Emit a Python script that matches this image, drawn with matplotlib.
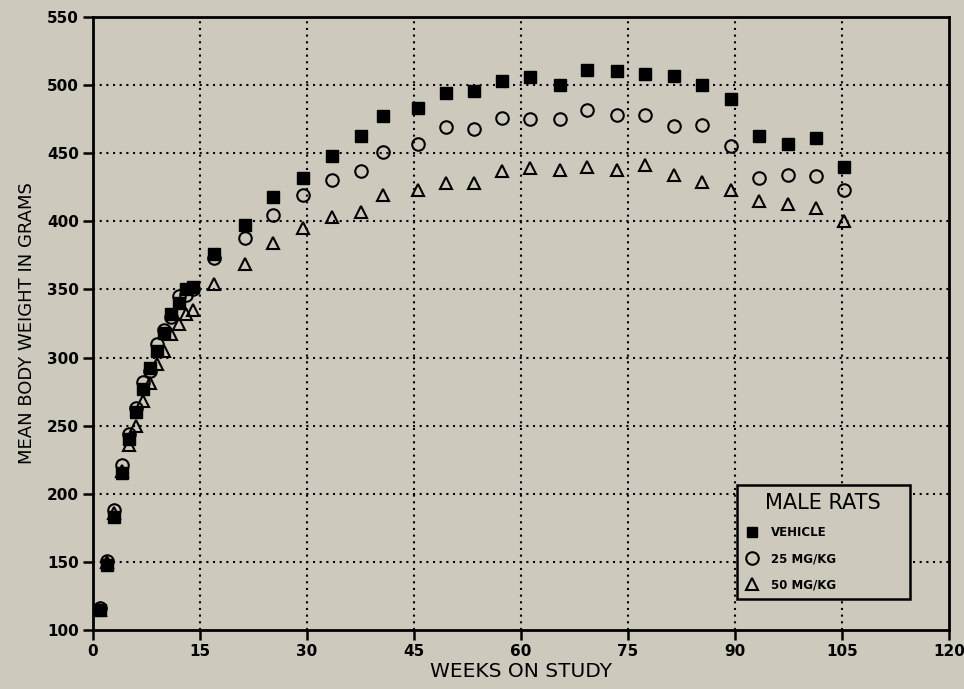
import matplotlib
matplotlib.use("Agg")
import matplotlib.pyplot as plt
from matplotlib.lines import Line2D

# ---- data ----
weeks = [1, 2, 3, 4, 5, 6, 7, 8, 9, 10, 11, 12, 13, 14,
         17, 21.3, 25.3, 29.4, 33.5, 37.5, 40.6, 45.5, 49.5, 53.4, 57.3, 61.3,
         65.4, 69.3, 73.4, 77.4, 81.4, 85.4, 89.4, 93.4, 97.4, 101.4, 105.3]

vehicle = [115, 148, 183, 215, 240, 260, 277, 292, 305, 318, 332, 340, 350, 352,
           376, 397, 418, 432, 448, 463, 477, 483, 494, 496, 503, 506, 500,
           511, 510, 508, 507, 500, 490, 463, 457, 461, 440]

mg25 = [116, 151, 188, 221, 244, 263, 282, 290, 310, 320, 330, 345, 346, 350,
        373, 388, 405, 419, 430, 437, 451, 457, 469, 468, 476, 475, 475,
        482, 478, 478, 470, 471, 455, 432, 434, 433, 423]

mg50 = [115, 150, 186, 217, 236, 250, 268, 281, 295, 305, 317, 325, 332, 335,
        354, 369, 384, 395, 403, 407, 419, 423, 428, 428, 437, 439, 438,
        440, 438, 441, 434, 429, 423, 415, 413, 410, 400]

xticks = [0, 15, 30, 45, 60, 75, 90, 105, 120]
yticks = [100, 150, 200, 250, 300, 350, 400, 450, 500, 550]
labels = ["VEHICLE", "25 MG/KG", "50 MG/KG"]

bg = "#cdc9bd"
fig = plt.figure(figsize=(9.64, 6.89), dpi=100, facecolor=bg)
ax = fig.add_axes([93 / 964, 1 - 630 / 689, (949 - 93) / 964, (630 - 17) / 689])
ax.set_facecolor(bg)

ax.set_xlim(0, 120)
ax.set_ylim(100, 550)
ax.set_xticks(xticks)
ax.set_yticks(yticks)

# dotted grid
for x in xticks[1:-1]:
    ax.axvline(x, color="black", linestyle=(0, (1, 2.2)), linewidth=1.5, zorder=1)
for y in yticks[1:-1]:
    ax.axhline(y, color="black", linestyle=(0, (1, 2.2)), linewidth=1.5, zorder=1)

ax.plot(weeks, mg50, linestyle="none", marker="^", markersize=8.5,
        markerfacecolor="none", markeredgecolor="black", markeredgewidth=1.5, zorder=3)
ax.plot(weeks, mg25, linestyle="none", marker="o", markersize=9,
        markerfacecolor="none", markeredgecolor="black", markeredgewidth=1.5, zorder=4)
ax.plot(weeks, vehicle, linestyle="none", marker="s", markersize=8,
        markerfacecolor="black", markeredgecolor="black", zorder=5)

for s in ax.spines.values():
    s.set_linewidth(2)
    s.set_color("black")

ax.tick_params(direction="out", length=7, width=1.8, labelsize=11, pad=3)
for lab in ax.get_xticklabels() + ax.get_yticklabels():
    lab.set_fontweight("bold")

ax.set_xlabel("WEEKS ON STUDY", fontsize=14.5, labelpad=2)
ax.set_ylabel("MEAN BODY WEIGHT IN GRAMS", fontsize=13, labelpad=8)

handles = [
    Line2D([], [], linestyle="none", marker="s", markersize=7, markerfacecolor="black",
           markeredgecolor="black"),
    Line2D([], [], linestyle="none", marker="o", markersize=9, markerfacecolor="none",
           markeredgecolor="black", markeredgewidth=1.5),
    Line2D([], [], linestyle="none", marker="^", markersize=9, markerfacecolor="none",
           markeredgecolor="black", markeredgewidth=1.5),
]
leg = ax.legend(handles, labels, title="MALE RATS", loc="lower left",
                bbox_to_anchor=(0.752, 0.05, 0.202, 0.19), mode="expand",
                frameon=True, fancybox=False, facecolor=bg, edgecolor="black",
                prop={"size": 8.5, "weight": "bold"}, title_fontsize=15,
                handletextpad=1.0, borderpad=0.7, labelspacing=1.1,
                handlelength=1.2, borderaxespad=0)
leg.get_frame().set_linewidth(1.8)
leg.get_frame().set_alpha(1)
leg.set_zorder(10)

fig.savefig("out.png", dpi=100, facecolor=bg)
